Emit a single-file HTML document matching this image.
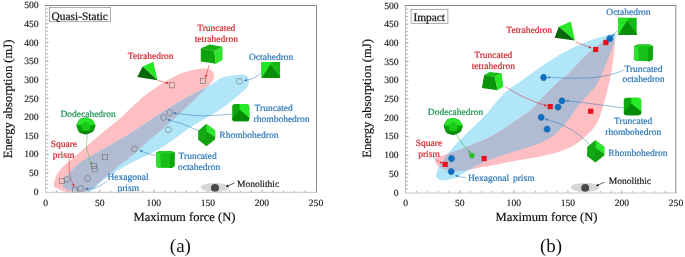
<!DOCTYPE html>
<html><head><meta charset="utf-8"><style>
html,body{margin:0;padding:0;background:#fff;}
svg{display:block;filter:blur(0.35px);}
text{font-family:"Liberation Serif",serif;text-rendering:geometricPrecision;}
.tk{font-size:9.6px;fill:#1a1a1a;stroke:#1a1a1a;stroke-width:0.15px;}
.ax{font-size:12.6px;fill:#111;stroke:#111;stroke-width:0.2px;}
.ay{font-size:12.6px;fill:#111;stroke:#111;stroke-width:0.2px;}
.lb{font-size:9.5px;stroke:currentColor;stroke-width:0.2px;}
.bx{font-size:11.4px;stroke:#1a1a1a;stroke-width:0.25px;}
.pl{font-size:19px;fill:#111;}
</style></head><body>
<svg width="685" height="257" viewBox="0 0 685 257">
<rect width="685" height="257" fill="#fff"/>
<path d="M53.80,186.00 C53.72,184.58 53.92,181.75 55.00,179.00 C56.08,176.25 57.55,172.75 60.30,169.50 C63.05,166.25 67.55,162.98 71.50,159.50 C75.45,156.02 78.75,153.15 84.00,148.60 C89.25,144.05 97.00,137.22 103.00,132.20 C109.00,127.18 113.92,123.87 120.00,118.50 C126.08,113.13 133.17,105.42 139.50,100.00 C145.83,94.58 151.67,90.17 158.00,86.00 C164.33,81.83 171.67,77.67 177.50,75.00 C183.33,72.33 188.25,71.08 193.00,70.00 C197.75,68.92 202.67,68.17 206.00,68.50 C209.33,68.83 211.67,70.42 213.00,72.00 C214.33,73.58 214.33,76.17 214.00,78.00 C213.67,79.83 212.83,80.83 211.00,83.00 C209.17,85.17 206.50,87.50 203.00,91.00 C199.50,94.50 196.08,98.25 190.00,104.00 C183.92,109.75 173.25,119.53 166.50,125.50 C159.75,131.47 154.83,135.13 149.50,139.80 C144.17,144.47 139.75,149.05 134.50,153.50 C129.25,157.95 122.92,162.50 118.00,166.50 C113.08,170.50 109.33,173.88 105.00,177.50 C100.67,181.12 95.83,185.62 92.00,188.20 C88.17,190.78 85.67,192.27 82.00,193.00 C78.33,193.73 73.50,193.05 70.00,192.60 C66.50,192.15 63.42,191.15 61.00,190.30 C58.58,189.45 56.70,188.22 55.50,187.50 C54.30,186.78 53.88,187.42 53.80,186.00Z" fill="#fdbfc1"/>
<path d="M63.00,185.00 C63.25,183.42 64.00,180.50 65.50,178.00 C67.00,175.50 69.17,172.87 72.00,170.00 C74.83,167.13 78.17,163.77 82.50,160.80 C86.83,157.83 91.75,155.73 98.00,152.20 C104.25,148.67 114.50,142.80 120.00,139.60 C125.50,136.40 126.00,136.23 131.00,133.00 C136.00,129.77 141.45,125.70 150.00,120.20 C158.55,114.70 172.08,105.95 182.30,100.00 C192.52,94.05 204.68,88.20 211.30,84.50 C217.92,80.80 217.88,79.38 222.00,77.80 C226.12,76.22 232.37,75.50 236.00,75.00 C239.63,74.50 241.75,74.33 243.80,74.80 C245.85,75.27 247.47,76.52 248.30,77.80 C249.13,79.08 249.18,80.77 248.80,82.50 C248.42,84.23 248.53,85.40 246.00,88.20 C243.47,91.00 238.18,95.53 233.60,99.30 C229.02,103.07 223.63,107.37 218.50,110.80 C213.37,114.23 207.55,117.10 202.80,119.90 C198.05,122.70 193.38,125.40 190.00,127.60 C186.62,129.80 186.67,130.12 182.50,133.10 C178.33,136.08 170.83,141.82 165.00,145.50 C159.17,149.18 153.33,152.20 147.50,155.20 C141.67,158.20 136.00,160.28 130.00,163.50 C124.00,166.72 116.50,171.25 111.50,174.50 C106.50,177.75 103.50,180.17 100.00,183.00 C96.50,185.83 93.83,190.00 90.50,191.50 C87.17,193.00 83.42,192.25 80.00,192.00 C76.58,191.75 72.67,190.75 70.00,190.00 C67.33,189.25 65.17,188.33 64.00,187.50 C62.83,186.67 62.75,186.58 63.00,185.00Z" fill="#b1e5f8"/>
<clipPath id="cpL"><path d="M53.80,186.00 C53.72,184.58 53.92,181.75 55.00,179.00 C56.08,176.25 57.55,172.75 60.30,169.50 C63.05,166.25 67.55,162.98 71.50,159.50 C75.45,156.02 78.75,153.15 84.00,148.60 C89.25,144.05 97.00,137.22 103.00,132.20 C109.00,127.18 113.92,123.87 120.00,118.50 C126.08,113.13 133.17,105.42 139.50,100.00 C145.83,94.58 151.67,90.17 158.00,86.00 C164.33,81.83 171.67,77.67 177.50,75.00 C183.33,72.33 188.25,71.08 193.00,70.00 C197.75,68.92 202.67,68.17 206.00,68.50 C209.33,68.83 211.67,70.42 213.00,72.00 C214.33,73.58 214.33,76.17 214.00,78.00 C213.67,79.83 212.83,80.83 211.00,83.00 C209.17,85.17 206.50,87.50 203.00,91.00 C199.50,94.50 196.08,98.25 190.00,104.00 C183.92,109.75 173.25,119.53 166.50,125.50 C159.75,131.47 154.83,135.13 149.50,139.80 C144.17,144.47 139.75,149.05 134.50,153.50 C129.25,157.95 122.92,162.50 118.00,166.50 C113.08,170.50 109.33,173.88 105.00,177.50 C100.67,181.12 95.83,185.62 92.00,188.20 C88.17,190.78 85.67,192.27 82.00,193.00 C78.33,193.73 73.50,193.05 70.00,192.60 C66.50,192.15 63.42,191.15 61.00,190.30 C58.58,189.45 56.70,188.22 55.50,187.50 C54.30,186.78 53.88,187.42 53.80,186.00Z"/></clipPath>
<path d="M63.00,185.00 C63.25,183.42 64.00,180.50 65.50,178.00 C67.00,175.50 69.17,172.87 72.00,170.00 C74.83,167.13 78.17,163.77 82.50,160.80 C86.83,157.83 91.75,155.73 98.00,152.20 C104.25,148.67 114.50,142.80 120.00,139.60 C125.50,136.40 126.00,136.23 131.00,133.00 C136.00,129.77 141.45,125.70 150.00,120.20 C158.55,114.70 172.08,105.95 182.30,100.00 C192.52,94.05 204.68,88.20 211.30,84.50 C217.92,80.80 217.88,79.38 222.00,77.80 C226.12,76.22 232.37,75.50 236.00,75.00 C239.63,74.50 241.75,74.33 243.80,74.80 C245.85,75.27 247.47,76.52 248.30,77.80 C249.13,79.08 249.18,80.77 248.80,82.50 C248.42,84.23 248.53,85.40 246.00,88.20 C243.47,91.00 238.18,95.53 233.60,99.30 C229.02,103.07 223.63,107.37 218.50,110.80 C213.37,114.23 207.55,117.10 202.80,119.90 C198.05,122.70 193.38,125.40 190.00,127.60 C186.62,129.80 186.67,130.12 182.50,133.10 C178.33,136.08 170.83,141.82 165.00,145.50 C159.17,149.18 153.33,152.20 147.50,155.20 C141.67,158.20 136.00,160.28 130.00,163.50 C124.00,166.72 116.50,171.25 111.50,174.50 C106.50,177.75 103.50,180.17 100.00,183.00 C96.50,185.83 93.83,190.00 90.50,191.50 C87.17,193.00 83.42,192.25 80.00,192.00 C76.58,191.75 72.67,190.75 70.00,190.00 C67.33,189.25 65.17,188.33 64.00,187.50 C62.83,186.67 62.75,186.58 63.00,185.00Z" fill="#b1bcd3" clip-path="url(#cpL)"/>
<path d="M436.50,177.50 C435.47,176.08 436.33,173.83 436.80,172.00 C437.27,170.17 437.72,169.22 439.30,166.50 C440.88,163.78 443.18,159.83 446.30,155.70 C449.42,151.57 455.25,144.78 458.00,141.70 C460.75,138.62 459.93,139.95 462.80,137.20 C465.67,134.45 471.32,129.02 475.20,125.20 C479.08,121.38 482.80,117.92 486.10,114.30 C489.40,110.68 491.57,107.37 495.00,103.50 C498.43,99.63 502.48,94.78 506.70,91.10 C510.92,87.42 515.77,84.63 520.30,81.40 C524.83,78.17 529.45,74.80 533.90,71.70 C538.35,68.60 542.28,65.87 547.00,62.80 C551.72,59.73 557.08,56.18 562.20,53.30 C567.32,50.42 572.52,47.83 577.70,45.50 C582.88,43.17 588.12,41.10 593.30,39.30 C598.48,37.50 605.27,35.65 608.80,34.70 C612.33,33.75 613.33,33.33 614.50,33.60 C615.67,33.87 616.08,34.17 615.80,36.30 C615.52,38.43 614.43,41.78 612.80,46.40 C611.17,51.02 608.50,57.93 606.00,64.00 C603.50,70.07 600.88,77.55 597.80,82.80 C594.72,88.05 590.67,91.80 587.50,95.50 C584.33,99.20 582.47,100.33 578.80,105.00 C575.13,109.67 570.48,117.88 565.50,123.50 C560.52,129.12 555.55,134.62 548.90,138.70 C542.25,142.78 532.08,145.67 525.60,148.00 C519.12,150.33 515.10,151.03 510.00,152.70 C504.90,154.37 499.83,156.20 495.00,158.00 C490.17,159.80 485.17,161.58 481.00,163.50 C476.83,165.42 473.17,167.67 470.00,169.50 C466.83,171.33 464.78,173.00 462.00,174.50 C459.22,176.00 456.47,177.50 453.30,178.50 C450.13,179.50 445.80,180.67 443.00,180.50 C440.20,180.33 437.53,178.92 436.50,177.50Z" fill="#b1e5f8"/>
<path d="M435.30,162.00 C434.60,160.17 436.05,158.67 437.50,157.50 C438.95,156.33 440.25,156.33 444.00,155.00 C447.75,153.67 454.42,151.58 460.00,149.50 C465.58,147.42 472.33,144.67 477.50,142.50 C482.67,140.33 486.65,138.75 491.00,136.50 C495.35,134.25 499.43,131.67 503.60,129.00 C507.77,126.33 511.43,123.67 516.00,120.50 C520.57,117.33 527.00,113.42 531.00,110.00 C535.00,106.58 537.17,103.00 540.00,100.00 C542.83,97.00 545.17,94.83 548.00,92.00 C550.83,89.17 553.42,86.25 557.00,83.00 C560.58,79.75 565.00,76.80 569.50,72.50 C574.00,68.20 579.08,61.87 584.00,57.20 C588.92,52.53 594.83,47.82 599.00,44.50 C603.17,41.18 606.50,38.30 609.00,37.30 C611.50,36.30 613.05,37.63 614.00,38.50 C614.95,39.37 614.74,39.75 614.70,42.50 C614.66,45.25 614.27,50.32 613.75,55.00 C613.23,59.68 612.49,65.39 611.60,70.60 C610.71,75.81 609.65,80.93 608.40,86.25 C607.15,91.57 605.85,96.67 604.10,102.50 C602.35,108.33 600.50,116.02 597.90,121.20 C595.30,126.38 592.65,129.47 588.50,133.60 C584.35,137.73 579.22,142.62 573.00,146.00 C566.78,149.38 560.03,151.57 551.20,153.90 C542.37,156.23 529.37,158.19 520.00,160.00 C510.63,161.81 503.83,163.08 495.00,164.75 C486.17,166.42 473.17,168.97 467.00,170.00 C460.83,171.03 462.22,171.15 458.00,170.90 C453.78,170.65 445.48,169.98 441.70,168.50 C437.92,167.02 436.00,163.83 435.30,162.00Z" fill="#fdbfc1"/>
<clipPath id="cpR"><path d="M436.50,177.50 C435.47,176.08 436.33,173.83 436.80,172.00 C437.27,170.17 437.72,169.22 439.30,166.50 C440.88,163.78 443.18,159.83 446.30,155.70 C449.42,151.57 455.25,144.78 458.00,141.70 C460.75,138.62 459.93,139.95 462.80,137.20 C465.67,134.45 471.32,129.02 475.20,125.20 C479.08,121.38 482.80,117.92 486.10,114.30 C489.40,110.68 491.57,107.37 495.00,103.50 C498.43,99.63 502.48,94.78 506.70,91.10 C510.92,87.42 515.77,84.63 520.30,81.40 C524.83,78.17 529.45,74.80 533.90,71.70 C538.35,68.60 542.28,65.87 547.00,62.80 C551.72,59.73 557.08,56.18 562.20,53.30 C567.32,50.42 572.52,47.83 577.70,45.50 C582.88,43.17 588.12,41.10 593.30,39.30 C598.48,37.50 605.27,35.65 608.80,34.70 C612.33,33.75 613.33,33.33 614.50,33.60 C615.67,33.87 616.08,34.17 615.80,36.30 C615.52,38.43 614.43,41.78 612.80,46.40 C611.17,51.02 608.50,57.93 606.00,64.00 C603.50,70.07 600.88,77.55 597.80,82.80 C594.72,88.05 590.67,91.80 587.50,95.50 C584.33,99.20 582.47,100.33 578.80,105.00 C575.13,109.67 570.48,117.88 565.50,123.50 C560.52,129.12 555.55,134.62 548.90,138.70 C542.25,142.78 532.08,145.67 525.60,148.00 C519.12,150.33 515.10,151.03 510.00,152.70 C504.90,154.37 499.83,156.20 495.00,158.00 C490.17,159.80 485.17,161.58 481.00,163.50 C476.83,165.42 473.17,167.67 470.00,169.50 C466.83,171.33 464.78,173.00 462.00,174.50 C459.22,176.00 456.47,177.50 453.30,178.50 C450.13,179.50 445.80,180.67 443.00,180.50 C440.20,180.33 437.53,178.92 436.50,177.50Z"/></clipPath>
<path d="M435.30,162.00 C434.60,160.17 436.05,158.67 437.50,157.50 C438.95,156.33 440.25,156.33 444.00,155.00 C447.75,153.67 454.42,151.58 460.00,149.50 C465.58,147.42 472.33,144.67 477.50,142.50 C482.67,140.33 486.65,138.75 491.00,136.50 C495.35,134.25 499.43,131.67 503.60,129.00 C507.77,126.33 511.43,123.67 516.00,120.50 C520.57,117.33 527.00,113.42 531.00,110.00 C535.00,106.58 537.17,103.00 540.00,100.00 C542.83,97.00 545.17,94.83 548.00,92.00 C550.83,89.17 553.42,86.25 557.00,83.00 C560.58,79.75 565.00,76.80 569.50,72.50 C574.00,68.20 579.08,61.87 584.00,57.20 C588.92,52.53 594.83,47.82 599.00,44.50 C603.17,41.18 606.50,38.30 609.00,37.30 C611.50,36.30 613.05,37.63 614.00,38.50 C614.95,39.37 614.74,39.75 614.70,42.50 C614.66,45.25 614.27,50.32 613.75,55.00 C613.23,59.68 612.49,65.39 611.60,70.60 C610.71,75.81 609.65,80.93 608.40,86.25 C607.15,91.57 605.85,96.67 604.10,102.50 C602.35,108.33 600.50,116.02 597.90,121.20 C595.30,126.38 592.65,129.47 588.50,133.60 C584.35,137.73 579.22,142.62 573.00,146.00 C566.78,149.38 560.03,151.57 551.20,153.90 C542.37,156.23 529.37,158.19 520.00,160.00 C510.63,161.81 503.83,163.08 495.00,164.75 C486.17,166.42 473.17,168.97 467.00,170.00 C460.83,171.03 462.22,171.15 458.00,170.90 C453.78,170.65 445.48,169.98 441.70,168.50 C437.92,167.02 436.00,163.83 435.30,162.00Z" fill="#b1bcd3" clip-path="url(#cpR)"/>
<rect x="0" y="192.3" width="342" height="65" fill="#fff"/>
<rect x="342" y="193.0" width="343" height="65" fill="#fff"/>
<line x1="56.51" y1="192.3" x2="56.51" y2="190.3" stroke="#a0a0a0" stroke-width="0.8"/>
<line x1="67.32" y1="192.3" x2="67.32" y2="190.3" stroke="#a0a0a0" stroke-width="0.8"/>
<line x1="78.14" y1="192.3" x2="78.14" y2="190.3" stroke="#a0a0a0" stroke-width="0.8"/>
<line x1="88.95" y1="192.3" x2="88.95" y2="190.3" stroke="#a0a0a0" stroke-width="0.8"/>
<line x1="99.76" y1="192.3" x2="99.76" y2="189.70000000000002" stroke="#888" stroke-width="0.8"/>
<line x1="110.57" y1="192.3" x2="110.57" y2="190.3" stroke="#a0a0a0" stroke-width="0.8"/>
<line x1="121.38" y1="192.3" x2="121.38" y2="190.3" stroke="#a0a0a0" stroke-width="0.8"/>
<line x1="132.20" y1="192.3" x2="132.20" y2="190.3" stroke="#a0a0a0" stroke-width="0.8"/>
<line x1="143.01" y1="192.3" x2="143.01" y2="190.3" stroke="#a0a0a0" stroke-width="0.8"/>
<line x1="153.82" y1="192.3" x2="153.82" y2="189.70000000000002" stroke="#888" stroke-width="0.8"/>
<line x1="164.63" y1="192.3" x2="164.63" y2="190.3" stroke="#a0a0a0" stroke-width="0.8"/>
<line x1="175.44" y1="192.3" x2="175.44" y2="190.3" stroke="#a0a0a0" stroke-width="0.8"/>
<line x1="186.26" y1="192.3" x2="186.26" y2="190.3" stroke="#a0a0a0" stroke-width="0.8"/>
<line x1="197.07" y1="192.3" x2="197.07" y2="190.3" stroke="#a0a0a0" stroke-width="0.8"/>
<line x1="207.88" y1="192.3" x2="207.88" y2="189.70000000000002" stroke="#888" stroke-width="0.8"/>
<line x1="218.69" y1="192.3" x2="218.69" y2="190.3" stroke="#a0a0a0" stroke-width="0.8"/>
<line x1="229.50" y1="192.3" x2="229.50" y2="190.3" stroke="#a0a0a0" stroke-width="0.8"/>
<line x1="240.32" y1="192.3" x2="240.32" y2="190.3" stroke="#a0a0a0" stroke-width="0.8"/>
<line x1="251.13" y1="192.3" x2="251.13" y2="190.3" stroke="#a0a0a0" stroke-width="0.8"/>
<line x1="261.94" y1="192.3" x2="261.94" y2="189.70000000000002" stroke="#888" stroke-width="0.8"/>
<line x1="272.75" y1="192.3" x2="272.75" y2="190.3" stroke="#a0a0a0" stroke-width="0.8"/>
<line x1="283.56" y1="192.3" x2="283.56" y2="190.3" stroke="#a0a0a0" stroke-width="0.8"/>
<line x1="294.38" y1="192.3" x2="294.38" y2="190.3" stroke="#a0a0a0" stroke-width="0.8"/>
<line x1="305.19" y1="192.3" x2="305.19" y2="190.3" stroke="#a0a0a0" stroke-width="0.8"/>
<line x1="45.5" y1="187.97" x2="47.9" y2="187.97" stroke="#999" stroke-width="0.8"/>
<line x1="45.5" y1="184.24" x2="47.9" y2="184.24" stroke="#999" stroke-width="0.8"/>
<line x1="45.5" y1="180.50" x2="47.9" y2="180.50" stroke="#999" stroke-width="0.8"/>
<line x1="45.5" y1="176.77" x2="47.9" y2="176.77" stroke="#999" stroke-width="0.8"/>
<line x1="45.5" y1="173.04" x2="48.5" y2="173.04" stroke="#7a7a7a" stroke-width="0.8"/>
<line x1="45.5" y1="169.31" x2="47.9" y2="169.31" stroke="#999" stroke-width="0.8"/>
<line x1="45.5" y1="165.58" x2="47.9" y2="165.58" stroke="#999" stroke-width="0.8"/>
<line x1="45.5" y1="161.84" x2="47.9" y2="161.84" stroke="#999" stroke-width="0.8"/>
<line x1="45.5" y1="158.11" x2="47.9" y2="158.11" stroke="#999" stroke-width="0.8"/>
<line x1="45.5" y1="154.38" x2="48.5" y2="154.38" stroke="#7a7a7a" stroke-width="0.8"/>
<line x1="45.5" y1="150.65" x2="47.9" y2="150.65" stroke="#999" stroke-width="0.8"/>
<line x1="45.5" y1="146.92" x2="47.9" y2="146.92" stroke="#999" stroke-width="0.8"/>
<line x1="45.5" y1="143.18" x2="47.9" y2="143.18" stroke="#999" stroke-width="0.8"/>
<line x1="45.5" y1="139.45" x2="47.9" y2="139.45" stroke="#999" stroke-width="0.8"/>
<line x1="45.5" y1="135.72" x2="48.5" y2="135.72" stroke="#7a7a7a" stroke-width="0.8"/>
<line x1="45.5" y1="131.99" x2="47.9" y2="131.99" stroke="#999" stroke-width="0.8"/>
<line x1="45.5" y1="128.26" x2="47.9" y2="128.26" stroke="#999" stroke-width="0.8"/>
<line x1="45.5" y1="124.52" x2="47.9" y2="124.52" stroke="#999" stroke-width="0.8"/>
<line x1="45.5" y1="120.79" x2="47.9" y2="120.79" stroke="#999" stroke-width="0.8"/>
<line x1="45.5" y1="117.06" x2="48.5" y2="117.06" stroke="#7a7a7a" stroke-width="0.8"/>
<line x1="45.5" y1="113.33" x2="47.9" y2="113.33" stroke="#999" stroke-width="0.8"/>
<line x1="45.5" y1="109.60" x2="47.9" y2="109.60" stroke="#999" stroke-width="0.8"/>
<line x1="45.5" y1="105.86" x2="47.9" y2="105.86" stroke="#999" stroke-width="0.8"/>
<line x1="45.5" y1="102.13" x2="47.9" y2="102.13" stroke="#999" stroke-width="0.8"/>
<line x1="45.5" y1="98.40" x2="48.5" y2="98.40" stroke="#7a7a7a" stroke-width="0.8"/>
<line x1="45.5" y1="94.67" x2="47.9" y2="94.67" stroke="#999" stroke-width="0.8"/>
<line x1="45.5" y1="90.94" x2="47.9" y2="90.94" stroke="#999" stroke-width="0.8"/>
<line x1="45.5" y1="87.20" x2="47.9" y2="87.20" stroke="#999" stroke-width="0.8"/>
<line x1="45.5" y1="83.47" x2="47.9" y2="83.47" stroke="#999" stroke-width="0.8"/>
<line x1="45.5" y1="79.74" x2="48.5" y2="79.74" stroke="#7a7a7a" stroke-width="0.8"/>
<line x1="45.5" y1="76.01" x2="47.9" y2="76.01" stroke="#999" stroke-width="0.8"/>
<line x1="45.5" y1="72.28" x2="47.9" y2="72.28" stroke="#999" stroke-width="0.8"/>
<line x1="45.5" y1="68.54" x2="47.9" y2="68.54" stroke="#999" stroke-width="0.8"/>
<line x1="45.5" y1="64.81" x2="47.9" y2="64.81" stroke="#999" stroke-width="0.8"/>
<line x1="45.5" y1="61.08" x2="48.5" y2="61.08" stroke="#7a7a7a" stroke-width="0.8"/>
<line x1="45.5" y1="57.35" x2="47.9" y2="57.35" stroke="#999" stroke-width="0.8"/>
<line x1="45.5" y1="53.62" x2="47.9" y2="53.62" stroke="#999" stroke-width="0.8"/>
<line x1="45.5" y1="49.88" x2="47.9" y2="49.88" stroke="#999" stroke-width="0.8"/>
<line x1="45.5" y1="46.15" x2="47.9" y2="46.15" stroke="#999" stroke-width="0.8"/>
<line x1="45.5" y1="42.42" x2="48.5" y2="42.42" stroke="#7a7a7a" stroke-width="0.8"/>
<line x1="45.5" y1="38.69" x2="47.9" y2="38.69" stroke="#999" stroke-width="0.8"/>
<line x1="45.5" y1="34.96" x2="47.9" y2="34.96" stroke="#999" stroke-width="0.8"/>
<line x1="45.5" y1="31.22" x2="47.9" y2="31.22" stroke="#999" stroke-width="0.8"/>
<line x1="45.5" y1="27.49" x2="47.9" y2="27.49" stroke="#999" stroke-width="0.8"/>
<line x1="45.5" y1="23.76" x2="48.5" y2="23.76" stroke="#7a7a7a" stroke-width="0.8"/>
<line x1="45.5" y1="20.03" x2="47.9" y2="20.03" stroke="#999" stroke-width="0.8"/>
<line x1="45.5" y1="16.30" x2="47.9" y2="16.30" stroke="#999" stroke-width="0.8"/>
<line x1="45.5" y1="12.56" x2="47.9" y2="12.56" stroke="#999" stroke-width="0.8"/>
<line x1="45.5" y1="8.83" x2="47.9" y2="8.83" stroke="#999" stroke-width="0.8"/>
<text x="38.60" y="194.80" text-anchor="end" class="tk">0</text>
<text x="38.60" y="176.14" text-anchor="end" class="tk">50</text>
<text x="38.60" y="157.48" text-anchor="end" class="tk">100</text>
<text x="38.60" y="138.82" text-anchor="end" class="tk">150</text>
<text x="38.60" y="120.16" text-anchor="end" class="tk">200</text>
<text x="38.60" y="101.50" text-anchor="end" class="tk">250</text>
<text x="38.60" y="82.84" text-anchor="end" class="tk">300</text>
<text x="38.60" y="64.18" text-anchor="end" class="tk">350</text>
<text x="38.60" y="45.52" text-anchor="end" class="tk">400</text>
<text x="38.60" y="26.86" text-anchor="end" class="tk">450</text>
<text x="38.60" y="8.20" text-anchor="end" class="tk">500</text>
<text x="45.70" y="205.60" text-anchor="middle" class="tk">0</text>
<text x="99.76" y="205.60" text-anchor="middle" class="tk">50</text>
<text x="153.82" y="205.60" text-anchor="middle" class="tk">100</text>
<text x="207.88" y="205.60" text-anchor="middle" class="tk">150</text>
<text x="261.94" y="205.60" text-anchor="middle" class="tk">200</text>
<text x="316.00" y="205.60" text-anchor="middle" class="tk">250</text>
<text x="184.50" y="221.10" text-anchor="middle" class="ax">Maximum force (N)</text>
<text transform="translate(12.00,98.9) rotate(-90)" text-anchor="middle" class="ay">Energy absorption (mJ)</text>
<line x1="416.51" y1="193.0" x2="416.51" y2="191.0" stroke="#a0a0a0" stroke-width="0.8"/>
<line x1="427.32" y1="193.0" x2="427.32" y2="191.0" stroke="#a0a0a0" stroke-width="0.8"/>
<line x1="438.14" y1="193.0" x2="438.14" y2="191.0" stroke="#a0a0a0" stroke-width="0.8"/>
<line x1="448.95" y1="193.0" x2="448.95" y2="191.0" stroke="#a0a0a0" stroke-width="0.8"/>
<line x1="459.76" y1="193.0" x2="459.76" y2="190.4" stroke="#888" stroke-width="0.8"/>
<line x1="470.57" y1="193.0" x2="470.57" y2="191.0" stroke="#a0a0a0" stroke-width="0.8"/>
<line x1="481.38" y1="193.0" x2="481.38" y2="191.0" stroke="#a0a0a0" stroke-width="0.8"/>
<line x1="492.20" y1="193.0" x2="492.20" y2="191.0" stroke="#a0a0a0" stroke-width="0.8"/>
<line x1="503.01" y1="193.0" x2="503.01" y2="191.0" stroke="#a0a0a0" stroke-width="0.8"/>
<line x1="513.82" y1="193.0" x2="513.82" y2="190.4" stroke="#888" stroke-width="0.8"/>
<line x1="524.63" y1="193.0" x2="524.63" y2="191.0" stroke="#a0a0a0" stroke-width="0.8"/>
<line x1="535.44" y1="193.0" x2="535.44" y2="191.0" stroke="#a0a0a0" stroke-width="0.8"/>
<line x1="546.26" y1="193.0" x2="546.26" y2="191.0" stroke="#a0a0a0" stroke-width="0.8"/>
<line x1="557.07" y1="193.0" x2="557.07" y2="191.0" stroke="#a0a0a0" stroke-width="0.8"/>
<line x1="567.88" y1="193.0" x2="567.88" y2="190.4" stroke="#888" stroke-width="0.8"/>
<line x1="578.69" y1="193.0" x2="578.69" y2="191.0" stroke="#a0a0a0" stroke-width="0.8"/>
<line x1="589.50" y1="193.0" x2="589.50" y2="191.0" stroke="#a0a0a0" stroke-width="0.8"/>
<line x1="600.32" y1="193.0" x2="600.32" y2="191.0" stroke="#a0a0a0" stroke-width="0.8"/>
<line x1="611.13" y1="193.0" x2="611.13" y2="191.0" stroke="#a0a0a0" stroke-width="0.8"/>
<line x1="621.94" y1="193.0" x2="621.94" y2="190.4" stroke="#888" stroke-width="0.8"/>
<line x1="632.75" y1="193.0" x2="632.75" y2="191.0" stroke="#a0a0a0" stroke-width="0.8"/>
<line x1="643.56" y1="193.0" x2="643.56" y2="191.0" stroke="#a0a0a0" stroke-width="0.8"/>
<line x1="654.38" y1="193.0" x2="654.38" y2="191.0" stroke="#a0a0a0" stroke-width="0.8"/>
<line x1="665.19" y1="193.0" x2="665.19" y2="191.0" stroke="#a0a0a0" stroke-width="0.8"/>
<line x1="405.5" y1="188.76" x2="407.9" y2="188.76" stroke="#999" stroke-width="0.8"/>
<line x1="405.5" y1="185.02" x2="407.9" y2="185.02" stroke="#999" stroke-width="0.8"/>
<line x1="405.5" y1="181.27" x2="407.9" y2="181.27" stroke="#999" stroke-width="0.8"/>
<line x1="405.5" y1="177.53" x2="407.9" y2="177.53" stroke="#999" stroke-width="0.8"/>
<line x1="405.5" y1="173.79" x2="408.5" y2="173.79" stroke="#7a7a7a" stroke-width="0.8"/>
<line x1="405.5" y1="170.05" x2="407.9" y2="170.05" stroke="#999" stroke-width="0.8"/>
<line x1="405.5" y1="166.31" x2="407.9" y2="166.31" stroke="#999" stroke-width="0.8"/>
<line x1="405.5" y1="162.56" x2="407.9" y2="162.56" stroke="#999" stroke-width="0.8"/>
<line x1="405.5" y1="158.82" x2="407.9" y2="158.82" stroke="#999" stroke-width="0.8"/>
<line x1="405.5" y1="155.08" x2="408.5" y2="155.08" stroke="#7a7a7a" stroke-width="0.8"/>
<line x1="405.5" y1="151.34" x2="407.9" y2="151.34" stroke="#999" stroke-width="0.8"/>
<line x1="405.5" y1="147.60" x2="407.9" y2="147.60" stroke="#999" stroke-width="0.8"/>
<line x1="405.5" y1="143.85" x2="407.9" y2="143.85" stroke="#999" stroke-width="0.8"/>
<line x1="405.5" y1="140.11" x2="407.9" y2="140.11" stroke="#999" stroke-width="0.8"/>
<line x1="405.5" y1="136.37" x2="408.5" y2="136.37" stroke="#7a7a7a" stroke-width="0.8"/>
<line x1="405.5" y1="132.63" x2="407.9" y2="132.63" stroke="#999" stroke-width="0.8"/>
<line x1="405.5" y1="128.89" x2="407.9" y2="128.89" stroke="#999" stroke-width="0.8"/>
<line x1="405.5" y1="125.14" x2="407.9" y2="125.14" stroke="#999" stroke-width="0.8"/>
<line x1="405.5" y1="121.40" x2="407.9" y2="121.40" stroke="#999" stroke-width="0.8"/>
<line x1="405.5" y1="117.66" x2="408.5" y2="117.66" stroke="#7a7a7a" stroke-width="0.8"/>
<line x1="405.5" y1="113.92" x2="407.9" y2="113.92" stroke="#999" stroke-width="0.8"/>
<line x1="405.5" y1="110.18" x2="407.9" y2="110.18" stroke="#999" stroke-width="0.8"/>
<line x1="405.5" y1="106.43" x2="407.9" y2="106.43" stroke="#999" stroke-width="0.8"/>
<line x1="405.5" y1="102.69" x2="407.9" y2="102.69" stroke="#999" stroke-width="0.8"/>
<line x1="405.5" y1="98.95" x2="408.5" y2="98.95" stroke="#7a7a7a" stroke-width="0.8"/>
<line x1="405.5" y1="95.21" x2="407.9" y2="95.21" stroke="#999" stroke-width="0.8"/>
<line x1="405.5" y1="91.47" x2="407.9" y2="91.47" stroke="#999" stroke-width="0.8"/>
<line x1="405.5" y1="87.72" x2="407.9" y2="87.72" stroke="#999" stroke-width="0.8"/>
<line x1="405.5" y1="83.98" x2="407.9" y2="83.98" stroke="#999" stroke-width="0.8"/>
<line x1="405.5" y1="80.24" x2="408.5" y2="80.24" stroke="#7a7a7a" stroke-width="0.8"/>
<line x1="405.5" y1="76.50" x2="407.9" y2="76.50" stroke="#999" stroke-width="0.8"/>
<line x1="405.5" y1="72.76" x2="407.9" y2="72.76" stroke="#999" stroke-width="0.8"/>
<line x1="405.5" y1="69.01" x2="407.9" y2="69.01" stroke="#999" stroke-width="0.8"/>
<line x1="405.5" y1="65.27" x2="407.9" y2="65.27" stroke="#999" stroke-width="0.8"/>
<line x1="405.5" y1="61.53" x2="408.5" y2="61.53" stroke="#7a7a7a" stroke-width="0.8"/>
<line x1="405.5" y1="57.79" x2="407.9" y2="57.79" stroke="#999" stroke-width="0.8"/>
<line x1="405.5" y1="54.05" x2="407.9" y2="54.05" stroke="#999" stroke-width="0.8"/>
<line x1="405.5" y1="50.30" x2="407.9" y2="50.30" stroke="#999" stroke-width="0.8"/>
<line x1="405.5" y1="46.56" x2="407.9" y2="46.56" stroke="#999" stroke-width="0.8"/>
<line x1="405.5" y1="42.82" x2="408.5" y2="42.82" stroke="#7a7a7a" stroke-width="0.8"/>
<line x1="405.5" y1="39.08" x2="407.9" y2="39.08" stroke="#999" stroke-width="0.8"/>
<line x1="405.5" y1="35.34" x2="407.9" y2="35.34" stroke="#999" stroke-width="0.8"/>
<line x1="405.5" y1="31.59" x2="407.9" y2="31.59" stroke="#999" stroke-width="0.8"/>
<line x1="405.5" y1="27.85" x2="407.9" y2="27.85" stroke="#999" stroke-width="0.8"/>
<line x1="405.5" y1="24.11" x2="408.5" y2="24.11" stroke="#7a7a7a" stroke-width="0.8"/>
<line x1="405.5" y1="20.37" x2="407.9" y2="20.37" stroke="#999" stroke-width="0.8"/>
<line x1="405.5" y1="16.63" x2="407.9" y2="16.63" stroke="#999" stroke-width="0.8"/>
<line x1="405.5" y1="12.88" x2="407.9" y2="12.88" stroke="#999" stroke-width="0.8"/>
<line x1="405.5" y1="9.14" x2="407.9" y2="9.14" stroke="#999" stroke-width="0.8"/>
<text x="398.60" y="195.60" text-anchor="end" class="tk">0</text>
<text x="398.60" y="176.89" text-anchor="end" class="tk">50</text>
<text x="398.60" y="158.18" text-anchor="end" class="tk">100</text>
<text x="398.60" y="139.47" text-anchor="end" class="tk">150</text>
<text x="398.60" y="120.76" text-anchor="end" class="tk">200</text>
<text x="398.60" y="102.05" text-anchor="end" class="tk">250</text>
<text x="398.60" y="83.34" text-anchor="end" class="tk">300</text>
<text x="398.60" y="64.63" text-anchor="end" class="tk">350</text>
<text x="398.60" y="45.92" text-anchor="end" class="tk">400</text>
<text x="398.60" y="27.21" text-anchor="end" class="tk">450</text>
<text x="398.60" y="8.50" text-anchor="end" class="tk">500</text>
<text x="405.70" y="206.30" text-anchor="middle" class="tk">0</text>
<text x="459.76" y="206.30" text-anchor="middle" class="tk">50</text>
<text x="513.82" y="206.30" text-anchor="middle" class="tk">100</text>
<text x="567.88" y="206.30" text-anchor="middle" class="tk">150</text>
<text x="621.94" y="206.30" text-anchor="middle" class="tk">200</text>
<text x="676.00" y="206.30" text-anchor="middle" class="tk">250</text>
<text x="546.50" y="221.40" text-anchor="middle" class="ax">Maximum force (N)</text>
<text transform="translate(371.30,98.4) rotate(-90)" text-anchor="middle" class="ay">Energy absorption (mJ)</text>
<rect x="49.4" y="7.6" width="61.2" height="14.1" fill="#fff" stroke="#8a8a8a" stroke-width="0.7"/>
<text x="51.60" y="19.50" fill="#1a1a1a" color="#1a1a1a" class="bx" text-anchor="start">Quasi-Static</text>
<ellipse cx="215.00" cy="187.40" rx="14.4" ry="4.3" fill="#d6d6d6"/>
<ellipse cx="215.00" cy="187.90" rx="4.0" ry="3.8" fill="#4a4a4a"/>
<path d="M234.6,182.9 L226,186.6" fill="none" stroke="#1a1a1a" stroke-width="0.7"/>
<polygon points="226.00,186.60 228.90,186.77 227.87,184.38" fill="#1a1a1a"/>
<text x="237.00" y="186.70" fill="#1a1a1a" color="#1a1a1a" class="lb" text-anchor="start">Monolithic</text>
<text x="127.80" y="58.50" fill="#d0262e" color="#d0262e" class="lb" text-anchor="start">Tetrahedron</text>
<polygon points="153.30,61.80 142.60,66.60 157.60,80.20" fill="#26e626"/>
<polygon points="142.60,66.60 137.30,77.00 157.60,80.20" fill="#056705"/>
<path d="M158,80.4 L168.5,83.4" fill="none" stroke="#d0262e" stroke-width="0.5"/>
<polygon points="168.50,83.40 166.36,81.44 165.64,83.94" fill="#d0262e"/>
<rect x="169.30" y="82.70" width="5.20" height="5.20" fill="none" stroke="#6e6e6e" stroke-width="0.6"/>
<text x="216.30" y="31.20" fill="#d0262e" color="#d0262e" class="lb" text-anchor="middle">Truncated</text>
<text x="216.30" y="42.10" fill="#d0262e" color="#d0262e" class="lb" text-anchor="middle">tetrahedron</text>
<polygon points="200.80,48.20 209.70,44.50 222.50,46.80 214.30,51.00" fill="#16b016"/>
<polygon points="200.80,48.20 214.30,51.00 216.00,63.80 200.80,61.50" fill="#0ea40e"/>
<polygon points="214.30,51.00 222.50,46.80 222.50,59.90 216.00,63.80" fill="#2ee42e"/>
<path d="M209.2,65 L205.5,77.7" fill="none" stroke="#d0262e" stroke-width="0.5"/>
<polygon points="205.50,77.70 207.48,75.57 204.98,74.84" fill="#d0262e"/>
<rect x="200.50" y="78.20" width="5.20" height="5.20" fill="none" stroke="#6e6e6e" stroke-width="0.6"/>
<text x="249.00" y="59.60" fill="#2d77b8" color="#2d77b8" class="lb" text-anchor="start">Octahedron</text>
<polygon points="261.40,62.00 280.10,62.00 280.10,77.90 261.40,77.90" fill="#15b815"/>
<polygon points="261.40,62.00 272.25,62.00 270.28,64.86 262.52,76.31 261.40,76.31" fill="#26e426"/>
<polygon points="270.28,64.86 262.15,77.90 280.10,77.90 280.10,76.63" fill="#088e08"/>
<path d="M260.50,73.20 C259.42,74.00 256.70,76.75 254.00,78.00 C251.30,79.25 245.92,80.25 244.30,80.70" fill="none" stroke="#2d77b8" stroke-width="0.5"/>
<polygon points="244.30,80.70 247.15,81.26 246.46,78.75" fill="#2d77b8"/>
<polygon points="242.70,81.30 241.05,84.01 237.75,84.01 236.10,81.30 237.75,78.59 241.05,78.59" fill="none" stroke="#6e6e6e" stroke-width="0.6"/>
<clipPath id="tr232"><rect x="232.20" y="103.90" width="17.10" height="17.40" rx="2.91"/></clipPath>
<g clip-path="url(#tr232)">
<polygon points="230.49,102.16 251.01,102.16 251.01,123.04 230.49,123.04" fill="#10a810"/>
<polygon points="239.55,109.82 239.55,102.16 251.01,102.16 251.01,119.21" fill="#28eb28"/>
<polygon points="239.55,109.82 251.01,119.21 251.01,123.04 230.49,123.04 230.49,120.43" fill="#068c06"/>
</g>
<text x="254.60" y="110.60" fill="#2d77b8" color="#2d77b8" class="lb" text-anchor="start">Truncated</text>
<text x="253.60" y="122.30" fill="#2d77b8" color="#2d77b8" class="lb" text-anchor="start">rhombohedron</text>
<path d="M231.50,114.20 C226.25,114.47 209.72,116.02 200.00,115.80 C190.28,115.58 177.67,113.38 173.20,112.90" fill="none" stroke="#2d77b8" stroke-width="0.5"/>
<polygon points="173.20,112.90 175.65,114.47 175.92,111.89" fill="#2d77b8"/>
<path d="M199.00,131.00 C196.50,129.92 189.28,126.40 184.00,124.50 C178.72,122.60 170.08,120.42 167.30,119.60" fill="none" stroke="#2d77b8" stroke-width="0.5"/>
<polygon points="167.30,119.60 169.43,121.58 170.16,119.08" fill="#2d77b8"/>
<polygon points="172.23,114.43 169.80,116.17 167.37,114.43 167.37,110.97 169.80,109.23 172.23,110.97" fill="none" stroke="#6e6e6e" stroke-width="0.6"/>
<polygon points="166.10,119.19 163.60,120.97 161.10,119.19 161.10,115.62 163.60,113.83 166.10,115.62" fill="none" stroke="#6e6e6e" stroke-width="0.6"/>
<polygon points="198.47,130.73 206.41,124.10 215.20,130.51 215.20,139.13 206.41,146.20 198.30,139.79" fill="#0f9f0f"/>
<polygon points="198.47,130.73 206.41,124.10 206.75,132.06 205.91,140.67 198.30,139.79" fill="#14a814"/>
<polygon points="206.41,124.10 215.20,130.51 215.20,137.36 206.75,132.06" fill="#2ee82e"/>
<text x="219.30" y="138.40" fill="#2d77b8" color="#2d77b8" class="lb" text-anchor="start">Rhombohedron</text>
<polygon points="171.70,129.70 170.05,132.41 166.75,132.41 165.10,129.70 166.75,126.99 170.05,126.99" fill="none" stroke="#6e6e6e" stroke-width="0.6"/>
<polygon points="156.19,152.61 159.57,150.90 171.60,150.90 174.80,152.61 174.42,166.29 171.60,168.00 157.69,167.66 156.00,166.12" fill="#17bf17"/>
<polygon points="156.19,152.61 160.14,153.47 160.89,167.83 157.69,167.66 156.00,166.12" fill="#30de30"/>
<polygon points="156.19,152.61 159.57,150.90 171.60,150.90 174.80,152.61 170.29,153.47 160.14,153.47" fill="#1fcc1f"/>
<polygon points="170.29,153.47 174.80,152.61 174.42,166.29 171.60,168.00 169.72,168.00" fill="#0ea80e"/>
<text x="178.50" y="158.70" fill="#2d77b8" color="#2d77b8" class="lb" text-anchor="start">Truncated</text>
<text x="178.00" y="169.60" fill="#2d77b8" color="#2d77b8" class="lb" text-anchor="start">octahedron</text>
<path d="M155.30,155.50 C153.92,155.12 149.62,154.05 147.00,153.20 C144.38,152.35 140.83,150.87 139.60,150.40" fill="none" stroke="#2d77b8" stroke-width="0.5"/>
<polygon points="139.60,150.40 141.57,152.54 142.49,150.10" fill="#2d77b8"/>
<polygon points="137.80,149.00 136.15,151.71 132.85,151.71 131.20,149.00 132.85,146.29 136.15,146.29" fill="none" stroke="#6e6e6e" stroke-width="0.6"/>
<text x="60.40" y="117.10" fill="#1b9252" color="#1b9252" class="lb" text-anchor="start">Dodecahedron</text>
<path d="M79.90,119.00 C80.70,118.35 85.07,117.33 86.10,117.40 C87.13,117.47 91.52,119.15 92.30,119.80 C93.08,120.45 95.33,124.23 95.40,125.20 C95.47,126.17 93.88,130.62 93.10,131.40 C92.32,132.18 87.27,134.43 86.10,134.50 C84.93,134.57 79.90,132.97 79.10,132.20 C78.30,131.42 76.43,126.30 76.50,125.20 C76.57,124.10 79.10,119.65 79.90,119.00Z" fill="#078a07"/>
<polygon points="79.90,119.00 86.10,117.40 92.30,119.80 95.40,125.20 91.10,125.20 85.80,121.80 80.70,125.20 76.50,125.20" fill="#27e627"/>
<polygon points="85.80,121.80 91.10,125.20 89.50,130.70 82.70,130.70 80.70,125.20" fill="#17cc17"/>
<polygon points="76.50,125.20 80.70,125.20 82.70,130.70 79.10,132.20" fill="#0aa20a"/>
<polygon points="95.40,125.20 91.10,125.20 89.50,130.70 93.10,131.40" fill="#0a9a0a"/>
<path d="M87.40,135.00 C87.27,137.00 86.28,143.17 86.60,147.00 C86.92,150.83 88.47,155.00 89.30,158.00 C90.13,161.00 91.22,163.83 91.60,165.00" fill="none" stroke="#4cbb4c" stroke-width="0.55"/>
<polygon points="91.60,165.00 92.02,162.12 89.55,162.94" fill="#4cbb4c"/>
<text x="63.90" y="147.40" fill="#d0262e" color="#d0262e" class="lb" text-anchor="middle">Square</text>
<text x="63.50" y="158.00" fill="#d0262e" color="#d0262e" class="lb" text-anchor="middle">prism</text>
<path d="M69.30,157.50 C69.28,159.58 68.88,166.25 69.20,170.00 C69.52,173.75 70.35,177.23 71.20,180.00 C72.05,182.77 73.78,185.50 74.30,186.60" fill="none" stroke="#d0262e" stroke-width="0.5"/>
<polygon points="74.30,186.60 74.37,183.69 72.02,184.80" fill="#d0262e"/>
<text x="128.00" y="179.80" fill="#2d77b8" color="#2d77b8" class="lb" text-anchor="middle">Hexagonal</text>
<text x="128.20" y="190.60" fill="#2d77b8" color="#2d77b8" class="lb" text-anchor="middle">prism</text>
<path d="M107.50,181.30 C105.58,182.35 99.70,186.32 96.00,187.60 C92.30,188.88 87.08,188.77 85.30,189.00" fill="none" stroke="#2d77b8" stroke-width="0.5"/>
<polygon points="85.30,189.00 88.05,189.95 87.71,187.37" fill="#2d77b8"/>
<rect x="102.50" y="154.60" width="5.20" height="5.20" fill="none" stroke="#6e6e6e" stroke-width="0.6"/>
<rect x="91.30" y="163.20" width="5.20" height="5.20" fill="none" stroke="#6e6e6e" stroke-width="0.6"/>
<rect x="92.00" y="166.70" width="5.20" height="5.20" fill="none" stroke="#6e6e6e" stroke-width="0.6"/>
<rect x="59.20" y="178.40" width="5.20" height="5.20" fill="none" stroke="#6e6e6e" stroke-width="0.6"/>
<rect x="72.40" y="187.20" width="5.20" height="5.20" fill="none" stroke="#6e6e6e" stroke-width="0.6"/>
<polygon points="70.00,179.50 68.35,182.21 65.05,182.21 63.40,179.50 65.05,176.79 68.35,176.79" fill="none" stroke="#6e6e6e" stroke-width="0.6"/>
<polygon points="90.90,178.50 89.25,181.21 85.95,181.21 84.30,178.50 85.95,175.79 89.25,175.79" fill="none" stroke="#6e6e6e" stroke-width="0.6"/>
<polygon points="84.10,188.50 82.45,191.21 79.15,191.21 77.50,188.50 79.15,185.79 82.45,185.79" fill="none" stroke="#6e6e6e" stroke-width="0.6"/>
<rect x="411.1" y="9.3" width="36.8" height="14" fill="#fff" stroke="#8a8a8a" stroke-width="0.7"/>
<text x="413.40" y="21.40" fill="#1a1a1a" color="#1a1a1a" class="bx" text-anchor="start">Impact</text>
<ellipse cx="585.20" cy="187.40" rx="14.4" ry="4.3" fill="#d6d6d6"/>
<ellipse cx="585.20" cy="187.90" rx="4.0" ry="3.8" fill="#4a4a4a"/>
<path d="M604.6,182.1 L596,185.9" fill="none" stroke="#1a1a1a" stroke-width="0.7"/>
<polygon points="596.00,185.90 598.90,186.04 597.85,183.66" fill="#1a1a1a"/>
<text x="608.80" y="184.30" fill="#1a1a1a" color="#1a1a1a" class="lb" text-anchor="start">Monolithic</text>
<text x="506.30" y="32.50" fill="#d0262e" color="#d0262e" class="lb" text-anchor="start">Tetrahedron</text>
<polygon points="570.80,21.40 558.80,26.70 574.90,40.40" fill="#26e626"/>
<polygon points="558.80,26.70 554.70,37.80 574.90,40.40" fill="#056705"/>
<path d="M575.5,42 L591.5,48" fill="none" stroke="#d0262e" stroke-width="0.5"/>
<polygon points="591.50,48.00 589.52,45.87 588.61,48.30" fill="#d0262e"/>
<rect x="593.00" y="46.90" width="5.20" height="5.20" fill="#e8101a" stroke="none" stroke-width="0.6"/>
<rect x="603.30" y="39.90" width="5.20" height="5.20" fill="#e8101a" stroke="none" stroke-width="0.6"/>
<text x="606.30" y="15.00" fill="#2d77b8" color="#2d77b8" class="lb" text-anchor="start">Octahedron</text>
<polygon points="618.00,17.80 636.70,17.80 636.70,34.90 618.00,34.90" fill="#15b815"/>
<polygon points="618.00,17.80 628.85,17.80 626.88,20.88 619.12,33.19 618.00,33.19" fill="#26e426"/>
<polygon points="626.88,20.88 618.75,34.90 636.70,34.90 636.70,33.53" fill="#088e08"/>
<path d="M618.00,30.00 C617.17,30.92 614.08,34.42 613.00,35.50 C611.92,36.58 611.75,36.33 611.50,36.50" fill="none" stroke="#2d77b8" stroke-width="0.5"/>
<polygon points="611.50,36.50 614.38,36.14 612.94,33.98" fill="#2d77b8"/>
<polygon points="613.10,38.60 611.45,41.52 608.15,41.52 606.50,38.60 608.15,35.68 611.45,35.68" fill="#0c6fc0" stroke="#0a5fa6" stroke-width="0.5"/>
<polygon points="634.09,46.17 637.55,44.50 649.84,44.50 653.10,46.17 652.72,59.53 649.84,61.20 635.63,60.87 633.90,59.36" fill="#17bf17"/>
<polygon points="634.09,46.17 638.12,47.01 638.89,61.03 635.63,60.87 633.90,59.36" fill="#30de30"/>
<polygon points="634.09,46.17 637.55,44.50 649.84,44.50 653.10,46.17 648.49,47.01 638.12,47.01" fill="#1fcc1f"/>
<polygon points="648.49,47.01 653.10,46.17 652.72,59.53 649.84,61.20 647.92,61.20" fill="#0ea80e"/>
<text x="643.50" y="71.50" fill="#2d77b8" color="#2d77b8" class="lb" text-anchor="middle">Truncated</text>
<text x="643.50" y="81.90" fill="#2d77b8" color="#2d77b8" class="lb" text-anchor="middle">octahedron</text>
<path d="M624.50,70.00 C622.08,70.80 615.27,73.53 610.00,74.80 C604.73,76.07 599.57,77.03 592.90,77.60 C586.23,78.17 577.57,78.25 570.00,78.20 C562.43,78.15 551.25,77.45 547.50,77.30" fill="none" stroke="#2d77b8" stroke-width="0.5"/>
<polygon points="547.50,77.30 550.05,78.70 550.15,76.10" fill="#2d77b8"/>
<polygon points="546.90,77.50 545.25,80.42 541.95,80.42 540.30,77.50 541.95,74.58 545.25,74.58" fill="#0c6fc0" stroke="#0a5fa6" stroke-width="0.5"/>
<clipPath id="tr623"><rect x="623.75" y="97.75" width="17.50" height="17.50" rx="2.98"/></clipPath>
<g clip-path="url(#tr623)">
<polygon points="622.00,96.00 643.00,96.00 643.00,117.00 622.00,117.00" fill="#10a810"/>
<polygon points="631.27,103.70 631.27,96.00 643.00,96.00 643.00,113.15" fill="#28eb28"/>
<polygon points="631.27,103.70 643.00,113.15 643.00,117.00 622.00,117.00 622.00,114.38" fill="#068c06"/>
</g>
<text x="633.20" y="124.00" fill="#2d77b8" color="#2d77b8" class="lb" text-anchor="middle">Truncated</text>
<text x="633.20" y="135.20" fill="#2d77b8" color="#2d77b8" class="lb" text-anchor="middle">rhombohedron</text>
<path d="M623.50,108.00 C617.92,107.25 599.58,104.72 590.00,103.50 C580.42,102.28 570.00,101.17 566.00,100.70" fill="none" stroke="#2d77b8" stroke-width="0.5"/>
<polygon points="566.00,100.70 568.43,102.29 568.73,99.71" fill="#2d77b8"/>
<polygon points="565.30,100.90 563.65,103.82 560.35,103.82 558.70,100.90 560.35,97.98 563.65,97.98" fill="#0c6fc0" stroke="#0a5fa6" stroke-width="0.5"/>
<polygon points="561.30,107.10 559.65,110.02 556.35,110.02 554.70,107.10 556.35,104.18 559.65,104.18" fill="#0c6fc0" stroke="#0a5fa6" stroke-width="0.5"/>
<polygon points="587.47,146.99 595.46,140.30 604.30,146.77 604.30,155.46 595.46,162.60 587.30,156.13" fill="#0f9f0f"/>
<polygon points="587.47,146.99 595.46,140.30 595.80,148.33 594.95,157.03 587.30,156.13" fill="#14a814"/>
<polygon points="595.46,140.30 604.30,146.77 604.30,153.68 595.80,148.33" fill="#2ee82e"/>
<text x="608.30" y="156.00" fill="#2d77b8" color="#2d77b8" class="lb" text-anchor="start">Rhombohedron</text>
<path d="M589.30,144.40 C587.55,142.80 583.18,138.02 578.80,134.80 C574.42,131.58 568.63,127.75 563.00,125.10 C557.37,122.45 548.00,119.93 545.00,118.90" fill="none" stroke="#2d77b8" stroke-width="0.5"/>
<polygon points="545.00,118.90 547.03,120.98 547.88,118.52" fill="#2d77b8"/>
<polygon points="544.50,117.30 542.85,120.22 539.55,120.22 537.90,117.30 539.55,114.38 542.85,114.38" fill="#0c6fc0" stroke="#0a5fa6" stroke-width="0.5"/>
<polygon points="550.40,129.20 548.75,132.12 545.45,132.12 543.80,129.20 545.45,126.28 548.75,126.28" fill="#0c6fc0" stroke="#0a5fa6" stroke-width="0.5"/>
<text x="493.30" y="58.30" fill="#d0262e" color="#d0262e" class="lb" text-anchor="middle">Truncated</text>
<text x="493.30" y="69.10" fill="#d0262e" color="#d0262e" class="lb" text-anchor="middle">tetrahedron</text>
<polygon points="484.20,74.90 489.50,72.10 501.70,73.20 494.90,77.10" fill="#19bd19"/>
<polygon points="484.20,74.90 494.90,77.10 497.50,90.30 481.80,88.00" fill="#0b950b"/>
<polygon points="494.90,77.10 501.70,73.20 503.30,86.70 497.50,90.30" fill="#26e626"/>
<path d="M505.00,86.50 C507.50,87.97 515.00,92.75 520.00,95.30 C525.00,97.85 530.53,100.03 535.00,101.80 C539.47,103.57 544.83,105.22 546.80,105.90" fill="none" stroke="#d0262e" stroke-width="0.5"/>
<polygon points="546.80,105.90 544.77,103.82 543.92,106.27" fill="#d0262e"/>
<rect x="588.10" y="108.60" width="5.20" height="5.20" fill="#e8101a" stroke="none" stroke-width="0.6"/>
<rect x="547.60" y="104.00" width="5.20" height="5.20" fill="#e8101a" stroke="none" stroke-width="0.6"/>
<text x="455.50" y="115.25" fill="#1b9252" color="#1b9252" class="lb" text-anchor="middle">Dodecahedron</text>
<path d="M447.20,119.60 C448.00,118.95 452.37,117.93 453.40,118.00 C454.43,118.07 458.83,119.75 459.60,120.40 C460.38,121.05 462.63,124.83 462.70,125.80 C462.77,126.77 461.17,131.22 460.40,132.00 C459.62,132.78 454.57,135.03 453.40,135.10 C452.23,135.17 447.20,133.57 446.40,132.80 C445.60,132.02 443.73,126.90 443.80,125.80 C443.87,124.70 446.40,120.25 447.20,119.60Z" fill="#078a07"/>
<polygon points="447.20,119.60 453.40,118.00 459.60,120.40 462.70,125.80 458.40,125.80 453.10,122.40 448.00,125.80 443.80,125.80" fill="#27e627"/>
<polygon points="453.10,122.40 458.40,125.80 456.80,131.30 450.00,131.30 448.00,125.80" fill="#17cc17"/>
<polygon points="443.80,125.80 448.00,125.80 450.00,131.30 446.40,132.80" fill="#0aa20a"/>
<polygon points="462.70,125.80 458.40,125.80 456.80,131.30 460.40,132.00" fill="#0a9a0a"/>
<path d="M456.00,134.00 C457.00,135.50 459.58,139.78 462.00,143.00 C464.42,146.22 469.08,151.58 470.50,153.30" fill="none" stroke="#22aa22" stroke-width="0.5"/>
<polygon points="470.50,153.30 469.85,150.47 467.84,152.12" fill="#22aa22"/>
<polygon points="471.90,152.40 474.94,154.61 473.78,158.19 470.02,158.19 468.86,154.61" fill="#2bc02b"/>
<text x="429.00" y="145.50" fill="#d0262e" color="#d0262e" class="lb" text-anchor="middle">Square</text>
<text x="429.00" y="156.70" fill="#d0262e" color="#d0262e" class="lb" text-anchor="middle">prism</text>
<path d="M433.00,157.00 C433.83,157.67 436.42,159.92 438.00,161.00 C439.58,162.08 441.75,163.08 442.50,163.50" fill="none" stroke="#d0262e" stroke-width="0.5"/>
<polygon points="442.50,163.50 440.86,161.10 439.60,163.37" fill="#d0262e"/>
<rect x="442.60" y="161.80" width="5.20" height="5.20" fill="#e8101a" stroke="none" stroke-width="0.6"/>
<rect x="481.50" y="155.90" width="5.20" height="5.20" fill="#e8101a" stroke="none" stroke-width="0.6"/>
<polygon points="454.80,158.50 453.15,161.42 449.85,161.42 448.20,158.50 449.85,155.58 453.15,155.58" fill="#0c6fc0" stroke="#0a5fa6" stroke-width="0.5"/>
<polygon points="454.50,171.60 452.85,174.52 449.55,174.52 447.90,171.60 449.55,168.68 452.85,168.68" fill="#0c6fc0" stroke="#0a5fa6" stroke-width="0.5"/>
<text x="468.00" y="181.10" fill="#2d77b8" color="#2d77b8" class="lb" text-anchor="start">Hexagonal</text>
<text x="512.90" y="181.10" fill="#2d77b8" color="#2d77b8" class="lb" text-anchor="start">prism</text>
<path d="M466.00,177.60 C465.00,177.47 461.78,177.17 460.00,176.80 C458.22,176.43 456.08,175.63 455.30,175.40" fill="none" stroke="#2d77b8" stroke-width="0.5"/>
<polygon points="455.30,175.40 457.42,177.39 458.16,174.90" fill="#2d77b8"/>
<text x="180.4" y="251.6" text-anchor="middle" class="pl">(a)</text>
<text x="551" y="251.6" text-anchor="middle" class="pl">(b)</text>
<line x1="45.5" y1="5.5" x2="45.5" y2="192.3" stroke="#d4d4d4" stroke-width="1"/>
<line x1="45" y1="192.3" x2="317.0" y2="192.3" stroke="#c4c4c4" stroke-width="1"/>
<line x1="45" y1="5.5" x2="317.0" y2="5.5" stroke="#888" stroke-width="1"/>
<line x1="316.5" y1="5" x2="316.5" y2="192.3" stroke="#8c8c8c" stroke-width="1"/>
<line x1="405.5" y1="5.5" x2="405.5" y2="193.0" stroke="#b8b8b8" stroke-width="1"/>
<line x1="405" y1="193.0" x2="676.3" y2="193.0" stroke="#c4c4c4" stroke-width="1"/>
<line x1="405" y1="5.5" x2="676.3" y2="5.5" stroke="#888" stroke-width="1"/>
<line x1="675.8" y1="5" x2="675.8" y2="193.0" stroke="#8c8c8c" stroke-width="1"/>
</svg>
</body></html>
